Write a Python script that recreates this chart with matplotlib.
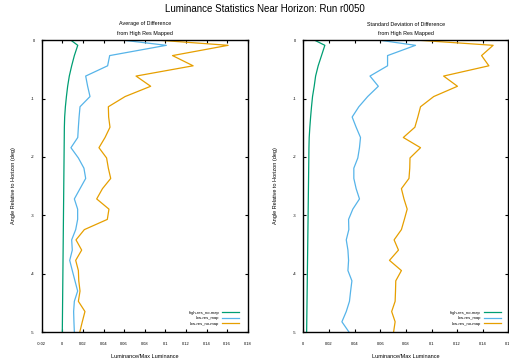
import matplotlib
matplotlib.use("Agg")
import matplotlib.pyplot as plt

plt.rcParams["font.family"] = ["Liberation Sans", "DejaVu Sans"]
plt.rcParams["axes.unicode_minus"] = False

# angle samples (deg)
y_deg = [0, -0.086, -0.262, -0.437, -0.613, -0.788, -0.964, -1.139, -1.315, -1.490,
         -1.666, -1.841, -2.017, -2.192, -2.368, -2.543, -2.719, -2.894, -3.070, -3.245,
         -3.421, -3.596, -3.772, -3.947, -4.123, -4.298, -4.474, -4.649, -4.825, -5.0]

# average of difference
avg_high_nomap = [0.0085, 0.015, 0.0117, 0.0091, 0.0068, 0.0052, 0.004, 0.003, 0.0023, 0.002,
                  0.0019, 0.0018, 0.0017, 0.0016, 0.0015, 0.0014, 0.0013, 0.0012, 0.0011, 0.001,
                  0.0009, 0.0008, 0.0007, 0.0006, 0.0005, 0.0004, 0.0003, 0.0002, 0.0001, 0.0]
avg_low_map = [0.06, 0.101, 0.046, 0.044, 0.0227, 0.0246, 0.0269, 0.0172, 0.0163, 0.0156,
               0.015, 0.0084, 0.0156, 0.021, 0.0227, 0.0172, 0.0117, 0.0149, 0.0149, 0.013,
               0.0091, 0.0097, 0.0072, 0.0097, 0.0123, 0.0149, 0.0117, 0.011, 0.0113, 0.0117]
avg_low_nomap = [0.095, 0.161, 0.107, 0.127, 0.0716, 0.0858, 0.061, 0.0447, 0.045, 0.0463,
                 0.0415, 0.0356, 0.043, 0.0447, 0.047, 0.039, 0.0334, 0.0453, 0.0437, 0.0214,
                 0.0133, 0.0188, 0.013, 0.0156, 0.016, 0.0172, 0.0156, 0.022, 0.0194, 0.017]

# standard deviation of difference
std_high_nomap = [0.009, 0.0168, 0.0142, 0.0116, 0.0096, 0.0085, 0.0072, 0.0064, 0.0057, 0.0051,
                  0.0046, 0.0044, 0.0043, 0.0042, 0.0041, 0.004, 0.0039, 0.0038, 0.0037, 0.0036,
                  0.0035, 0.0034, 0.0033, 0.0032, 0.0031, 0.003, 0.0029, 0.0028, 0.0027, 0.0026]
std_low_map = [0.06, 0.0875, 0.0657, 0.0657, 0.052, 0.0585, 0.0502, 0.0433, 0.0381, 0.0412,
               0.0446, 0.0438, 0.0425, 0.0394, 0.0394, 0.0412, 0.0438, 0.0386, 0.0353, 0.0355,
               0.0335, 0.0348, 0.0353, 0.0348, 0.0379, 0.0369, 0.036, 0.0335, 0.0301, 0.0356]
std_low_nomap = [0.0906, 0.148, 0.139, 0.1447, 0.1094, 0.1202, 0.1017, 0.0914, 0.0893, 0.087,
                 0.078, 0.0914, 0.0832, 0.083, 0.0824, 0.0765, 0.0785, 0.081, 0.0788, 0.0765,
                 0.0708, 0.0742, 0.0672, 0.0765, 0.0721, 0.0719, 0.0716, 0.0689, 0.0716, 0.0704]

names = ["high-res_no-map", "low-res_map", "low-res_no-map"]
colors = ["#009e73", "#56b4e9", "#e69f00"]

left_ticks = [-0.02, 0, 0.02, 0.04, 0.06, 0.08, 0.1, 0.12, 0.14, 0.16, 0.18]
right_ticks = [0, 0.02, 0.04, 0.06, 0.08, 0.1, 0.12, 0.14, 0.16]
y_ticks = [0, -1, -2, -3, -4, -5]

W, H = 509, 364
fig = plt.figure(figsize=(W / 100, H / 100), dpi=100)


def rect(x0, y0, x1, y1):
    return [x0 / W, 1 - y1 / H, (x1 - x0) / W, (y1 - y0) / H]


ax1 = fig.add_axes(rect(41.7, 40.3, 247.7, 332))
ax2 = fig.add_axes(rect(303.3, 40.3, 508.5, 332))

panels = [
    (ax1, [avg_high_nomap, avg_low_map, avg_low_nomap], left_ticks, (-0.02, 0.18), 0.958),
    (ax2, [std_high_nomap, std_low_map, std_low_nomap], right_ticks, (0, 0.16), 0.963),
]

for ax, series, xt, xl, lx in panels:
    for vals, name, c in zip(series, names, colors):
        ax.plot(vals, y_deg, color=c, lw=0.9, label=name)
    ax.set_xlim(*xl)
    ax.set_ylim(-5, 0)
    ax.set_xticks(xt)
    ax.set_xticklabels([("%g" % t) for t in xt])
    ax.set_yticks(y_ticks)
    ax.set_yticklabels([str(t) for t in y_ticks])
    ax.tick_params(direction="in", top=True, right=True, length=2.4, width=0.8,
                   labelsize=2.9, colors="black")
    ax.tick_params(axis="x", pad=7)
    ax.tick_params(axis="y", pad=5)
    for s in ax.spines.values():
        s.set_linewidth(1.0)
    ax.legend(loc="lower right", bbox_to_anchor=(lx, 0.022), frameon=False,
              markerfirst=False, fontsize=3, handlelength=4.0, handletextpad=0.8,
              labelspacing=0.35, borderpad=0, borderaxespad=0)

fig.text(0.52, 1 - 8.5 / H, "Luminance Statistics Near Horizon: Run r0050",
         ha="center", va="center", fontsize=7)
fig.text(145 / W, 1 - 24 / H, "Average of Difference", ha="center", va="center", fontsize=3.9)
fig.text(145 / W, 1 - 34 / H, "from High Res Mapped", ha="center", va="center", fontsize=3.9)
fig.text(406 / W, 1 - 24 / H, "Standard Deviation of Difference", ha="center", va="center", fontsize=3.9)
fig.text(406 / W, 1 - 34 / H, "from High Res Mapped", ha="center", va="center", fontsize=3.9)

for cx in (145, 406):
    fig.text(cx / W, 1 - 357 / H, "Luminance/Max Luminance", ha="center", va="center", fontsize=4)
for lx_px in (14, 275):
    fig.text(lx_px / W, 1 - 186 / H, "Angle Relative to Horizon (deg)", ha="center", va="center",
             rotation=90, fontsize=4)

fig.savefig("out.png", dpi=100)
